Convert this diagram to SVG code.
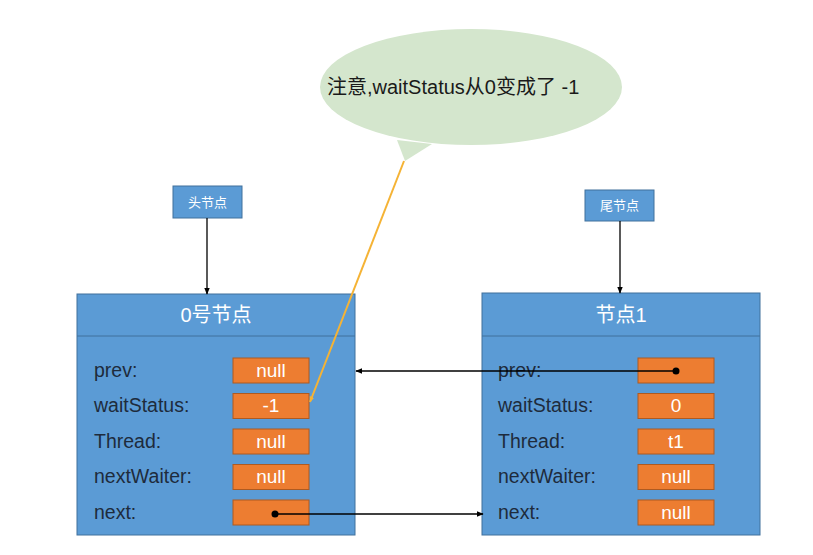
<svg xmlns="http://www.w3.org/2000/svg" width="813" height="555" viewBox="0 0 813 555">
<defs>
<style>
.node{fill:#5b9bd5;stroke:#41719c;stroke-width:1}
.sep{stroke:#41719c;stroke-width:1}
.val{fill:#ed7d31;stroke:#ae5a21;stroke-width:1}
.title{font-family:"Liberation Sans","Noto Sans CJK SC",sans-serif;font-size:20px;fill:#ffffff;text-anchor:middle}
.small{font-family:"Noto Sans CJK SC",sans-serif;font-size:13px;fill:#ffffff;text-anchor:middle}
.lbl{font-family:"Liberation Sans",sans-serif;font-size:19.5px;fill:#1e2b3c}
.vt{font-family:"Liberation Sans",sans-serif;font-size:19px;fill:#ffffff;text-anchor:middle}
.link{stroke:#000;stroke-width:1.3;fill:none}
.note{font-family:"Liberation Sans","Noto Sans CJK SC",sans-serif;font-size:20px;fill:#1a1a1a}
</style>
<marker id="ah" viewBox="0 0 10 10" refX="9" refY="5" markerWidth="7" markerHeight="7" orient="auto" markerUnits="userSpaceOnUse">
<path d="M0,1 L10,5 L0,9 z" fill="#000"/>
</marker>
<marker id="ay" viewBox="0 0 10 10" refX="9" refY="5" markerWidth="6" markerHeight="6" orient="auto" markerUnits="userSpaceOnUse">
<path d="M0,1 L10,5 L0,9 z" fill="#f5b335"/>
</marker>
</defs>
<rect width="813" height="555" fill="#ffffff"/>

<g id="bubble">
<path d="M397,140 L405,161 L432,144 Z" fill="#d4e6cd"/>
<ellipse cx="471" cy="87" rx="151" ry="58" fill="#d4e6cd"/>
<text class="note" x="327" y="94">注意,waitStatus从0变成了 -1</text>
</g>

<g id="head">
<rect class="node" x="173" y="186" width="69" height="32"/>
<text class="small" x="207.5" y="207">头节点</text>
</g>

<g id="tail">
<rect class="node" x="585" y="190" width="69" height="31"/>
<text class="small" x="619.5" y="210">尾节点</text>
</g>

<g id="node0">
<rect class="node" x="77" y="294" width="278" height="241"/>
<line class="sep" x1="77" y1="336" x2="355" y2="336"/>
<text class="title" x="216" y="322">0号节点</text>
<text class="lbl" x="94" y="377">prev:</text>
<text class="lbl" x="94" y="412">waitStatus:</text>
<text class="lbl" x="94" y="448">Thread:</text>
<text class="lbl" x="94" y="483">nextWaiter:</text>
<text class="lbl" x="94" y="519">next:</text>
<rect class="val" x="233" y="358" width="76" height="25"/>
<rect class="val" x="233" y="393.5" width="76" height="25"/>
<rect class="val" x="233" y="429" width="76" height="25"/>
<rect class="val" x="233" y="464.5" width="76" height="25"/>
<rect class="val" x="233" y="500" width="76" height="25"/>
<text class="vt" x="271" y="377">null</text>
<text class="vt" x="271" y="412">-1</text>
<text class="vt" x="271" y="448">null</text>
<text class="vt" x="271" y="483">null</text>
</g>

<g id="node1">
<rect class="node" x="482" y="293" width="278" height="242"/>
<line class="sep" x1="482" y1="336" x2="760" y2="336"/>
<text class="title" x="621" y="322">节点1</text>
<text class="lbl" x="498" y="377">prev:</text>
<text class="lbl" x="498" y="412">waitStatus:</text>
<text class="lbl" x="498" y="448">Thread:</text>
<text class="lbl" x="498" y="483">nextWaiter:</text>
<text class="lbl" x="498" y="519">next:</text>
<rect class="val" x="638" y="358" width="76" height="25"/>
<rect class="val" x="638" y="393.5" width="76" height="25"/>
<rect class="val" x="638" y="429" width="76" height="25"/>
<rect class="val" x="638" y="464.5" width="76" height="25"/>
<rect class="val" x="638" y="500" width="76" height="25"/>
<text class="vt" x="676" y="412">0</text>
<text class="vt" x="676" y="448">t1</text>
<text class="vt" x="676" y="483">null</text>
<text class="vt" x="676" y="519">null</text>
</g>

<g id="connectors">
<line class="link" x1="207" y1="218" x2="207" y2="294" marker-end="url(#ah)"/>
<line class="link" x1="620" y1="221" x2="620" y2="293" marker-end="url(#ah)"/>
<circle cx="676" cy="371" r="3.5" fill="#000"/>
<line class="link" x1="676" y1="371" x2="356" y2="371" marker-end="url(#ah)"/>
<circle cx="275" cy="514" r="3.5" fill="#000"/>
<line class="link" x1="275" y1="514" x2="483" y2="514" marker-end="url(#ah)"/>
<line x1="404" y1="161" x2="310" y2="402" stroke="#f5b335" stroke-width="2" marker-end="url(#ay)"/>
</g>
</svg>
